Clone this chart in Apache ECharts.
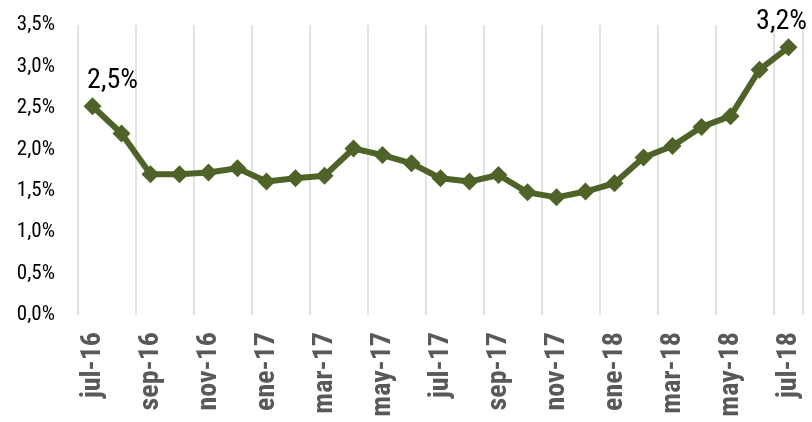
<!DOCTYPE html>
<html>
<head>
<meta charset="utf-8">
<script src="https://cdn.jsdelivr.net/npm/echarts@6/dist/echarts.min.js"></script>
<style>
  html, body { margin: 0; padding: 0; background: #fff; }
  #chart { width: 812px; height: 422px; }
</style>
</head>
<body>
<div id="chart"></div>
<script>
  // meses
  var months = ['jul-16', 'ago-16', 'sep-16', 'oct-16', 'nov-16', 'dic-16',
    'ene-17', 'feb-17', 'mar-17', 'abr-17', 'may-17', 'jun-17',
    'jul-17', 'ago-17', 'sep-17', 'oct-17', 'nov-17', 'dic-17',
    'ene-18', 'feb-18', 'mar-18', 'abr-18', 'may-18', 'jun-18', 'jul-18'];
  // valores (%)
  var values = [2.52, 2.19, 1.70, 1.70, 1.72, 1.77,
    1.61, 1.65, 1.68, 2.01, 1.93, 1.83,
    1.65, 1.61, 1.69, 1.48, 1.42, 1.49,
    1.59, 1.90, 2.04, 2.27, 2.40, 2.96, 3.23];
  // etiquetas de los extremos
  var endLabels = ['2,5%', '3,2%'];

  var fontName = '"Roboto Condensed", "Liberation Sans Narrow", "DejaVu Sans Condensed", sans-serif';

  var seriesData = values.map(function (v, i) {
    var item = { value: v };
    if (i === 0) {
      item.label = { show: true, formatter: endLabels[0], offset: [20, 4] };
    } else if (i === values.length - 1) {
      item.label = { show: true, formatter: endLabels[1], offset: [-7, 4] };
    }
    return item;
  });

  var chart = echarts.init(document.getElementById('chart'));
  var option = {
    backgroundColor: '#fff',
    animation: false,
    grid: { left: 78, right: 9, top: 25, bottom: 107, containLabel: false, outerBoundsMode: 'none' },
    xAxis: {
      type: 'category',
      data: months,
      boundaryGap: true,
      axisLine: { show: false },
      axisTick: { show: false },
      splitLine: { show: true, interval: 1, lineStyle: { color: '#d9d9d9', width: 1.5 } },
      axisLabel: {
        interval: 1,
        rotate: 90,
        margin: 17,
        color: '#595959',
        fontSize: 28,
        fontWeight: 'bold',
        fontFamily: fontName
      }
    },
    yAxis: {
      type: 'value',
      min: 0,
      max: 3.5,
      interval: 0.5,
      axisLine: { show: false },
      axisTick: { show: false },
      splitLine: { show: false },
      axisLabel: {
        margin: 23,
        color: '#000',
        fontSize: 21,
        fontFamily: fontName,
        formatter: function (v) { return v.toFixed(1).replace('.', ',') + '%'; }
      }
    },
    series: [{
      type: 'line',
      data: seriesData,
      symbol: 'diamond',
      symbolSize: 18,
      lineStyle: { color: '#4f6228', width: 6 },
      itemStyle: { color: '#4f6228' },
      label: {
        show: false,
        position: 'top',
        distance: 6,
        color: '#000',
        fontSize: 28,
        fontFamily: fontName
      }
    }]
  };
  chart.setOption(option);
</script>
</body>
</html>
